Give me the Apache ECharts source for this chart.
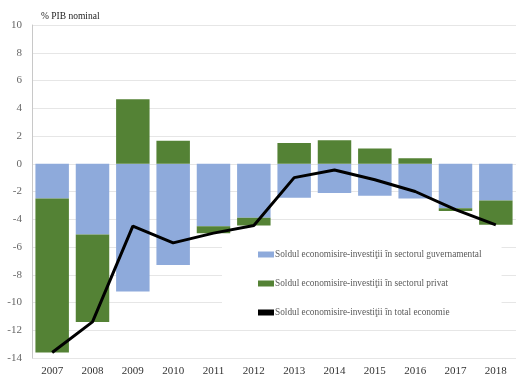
<!DOCTYPE html>
<html>
<head>
<meta charset="utf-8">
<script src="https://cdn.jsdelivr.net/npm/echarts@6/dist/echarts.min.js"></script>
<style>
  html, body { margin: 0; padding: 0; background: #fff; }
  #chart { width: 516px; height: 379px; }
</style>
</head>
<body>
<div id="chart"></div>
<script>
// Savings-investment balance, % of nominal GDP
const years = ['2007', '2008', '2009', '2010', '2011', '2012', '2013', '2014', '2015', '2016', '2017', '2018'];
const governmentBalance = [-2.5, -5.1, -9.2, -7.3, -4.5, -3.9, -2.45, -2.1, -2.3, -2.5, -3.2, -2.65];
const privateBalance = [-11.1, -6.3, 4.65, 1.65, -0.5, -0.55, 1.5, 1.7, 1.1, 0.4, -0.2, -1.75];
const totalBalance = [-13.6, -11.4, -4.5, -5.7, -5.0, -4.45, -1.0, -0.45, -1.15, -2.0, -3.3, -4.4];

const seriesNames = [
  'Soldul economisire-investiţii în sectorul guvernamental',
  'Soldul economisire-investiţii în sectorul privat',
  'Soldul economisire-investiţii în total economie'
];

const serif = '"Liberation Serif", "DejaVu Serif", serif';

const chart = echarts.init(document.getElementById('chart'), null, { renderer: 'canvas' });
chart.setOption({
  animation: false,
  backgroundColor: '#ffffff',
  title: {
    text: '% PIB nominal',
    left: 36,
    top: 6,
    textStyle: { fontFamily: serif, fontSize: 9.5, fontWeight: 'normal', color: '#222' }
  },
  grid: { left: 32, right: -8, top: 25, bottom: 21, containLabel: false },
  legend: {
    orient: 'vertical',
    left: 222,
    top: 238,
    padding: [12, 20, 12, 36],
    itemGap: 20,
    itemWidth: 16,
    itemHeight: 6,
    backgroundColor: '#ffffff',
    textStyle: { fontFamily: serif, fontSize: 9.3, color: '#5a5a5a', padding: [0, 0, 0, -4] },
    data: [
      { name: seriesNames[0], icon: 'rect' },
      { name: seriesNames[1], icon: 'rect' },
      { name: seriesNames[2], icon: 'rect' }
    ]
  },
  xAxis: {
    type: 'category',
    data: years,
    axisLine: { show: false, onZero: false },
    axisTick: { show: false },
    axisLabel: { fontFamily: serif, fontSize: 11, color: '#333', margin: 8 }
  },
  yAxis: {
    type: 'value',
    min: -14,
    max: 10,
    interval: 2,
    axisLine: { show: true, lineStyle: { color: '#c8c8c8', width: 1 } },
    axisTick: { show: false },
    axisLabel: { fontFamily: serif, fontSize: 11, color: '#666', margin: 10 },
    splitLine: { lineStyle: { color: '#e6e6e6', width: 1 } }
  },
  series: [
    {
      name: seriesNames[0],
      type: 'bar',
      stack: 'sold',
      barCategoryGap: '17%',
      itemStyle: { color: '#8eaadb' },
      data: governmentBalance
    },
    {
      name: seriesNames[1],
      type: 'bar',
      stack: 'sold',
      itemStyle: { color: '#548235' },
      data: privateBalance
    },
    {
      name: seriesNames[2],
      type: 'line',
      symbol: 'none',
      lineStyle: { color: '#000', width: 3 },
      itemStyle: { color: '#000' },
      z: 5,
      data: totalBalance
    }
  ]
});
</script>
</body>
</html>
